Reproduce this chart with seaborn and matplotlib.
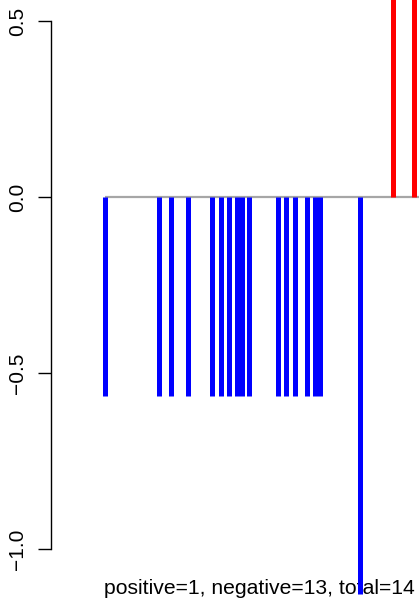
import matplotlib
matplotlib.use("Agg")
import matplotlib.pyplot as plt
import seaborn as sns

# positions along the sequence and signed scores
neg_pos = [105, 159, 171, 188, 212, 221, 229, 237, 242, 249,
           278, 286, 295, 307, 315, 320, 360]
neg_val = [-0.565, -0.565, -0.565, -0.565, -0.565, -0.565, -0.565, -0.565,
           -0.565, -0.565, -0.565, -0.565, -0.565, -0.565, -0.565, -0.565,
           -1.128]
pos_pos = [393, 414]
pos_val = [1.0, 1.0]
yticks = [-1.0, -0.5, 0.0, 0.5]
ytick_labels = ["\u22121.0", "\u22120.5", "0.0", "0.5"]
caption = "positive=1, negative=13, total=14"

sns.set_theme(style="white")
plt.rcParams['font.family'] = ['Liberation Sans', 'DejaVu Sans']

W, H = 419, 610
fig = plt.figure(figsize=(W / 100, H / 100), dpi=100)
# axes: left edge at the y spine, top at figure top
ax = fig.add_axes([51 / W, (H - 600) / H, (W - 51) / W, 600 / H])

y0 = 197.0   # pixel row of zero
scale = 352.0  # pixels per unit
ax.set_ylim((y0 - 600) / scale, y0 / scale)
ax.set_xlim(51, 419)

all_pos = neg_pos + pos_pos
ax.hlines(0, min(all_pos), 425, color="#a6a6a6", lw=1.6, zorder=1, clip_on=False)
ax.vlines(neg_pos, 0, neg_val, color="blue", lw=3.6, zorder=3)
ax.vlines(pos_pos, 0, pos_val, color="red", lw=3.6, zorder=3)

sns.despine(ax=ax, top=True, right=True, bottom=True, left=False)
ax.spines['left'].set_bounds(-1.0, 0.5)
ax.spines['left'].set_color("black")
ax.spines['left'].set_linewidth(1.0)
ax.set_xticks([])
ax.set_yticks(yticks)
ax.set_yticklabels(ytick_labels, rotation=90, va="center", fontsize=15)
ax.tick_params(axis="y", left=True, length=9.5, width=1.0, color="black",
               pad=8, labelcolor="black")
ax.grid(False)

ax.text(259.5, (y0 - 588) / scale, caption, ha="center", va="center",
        fontsize=15.2, color="black", zorder=2, clip_on=False)

fig.savefig("out.png", dpi=100, facecolor="white")
